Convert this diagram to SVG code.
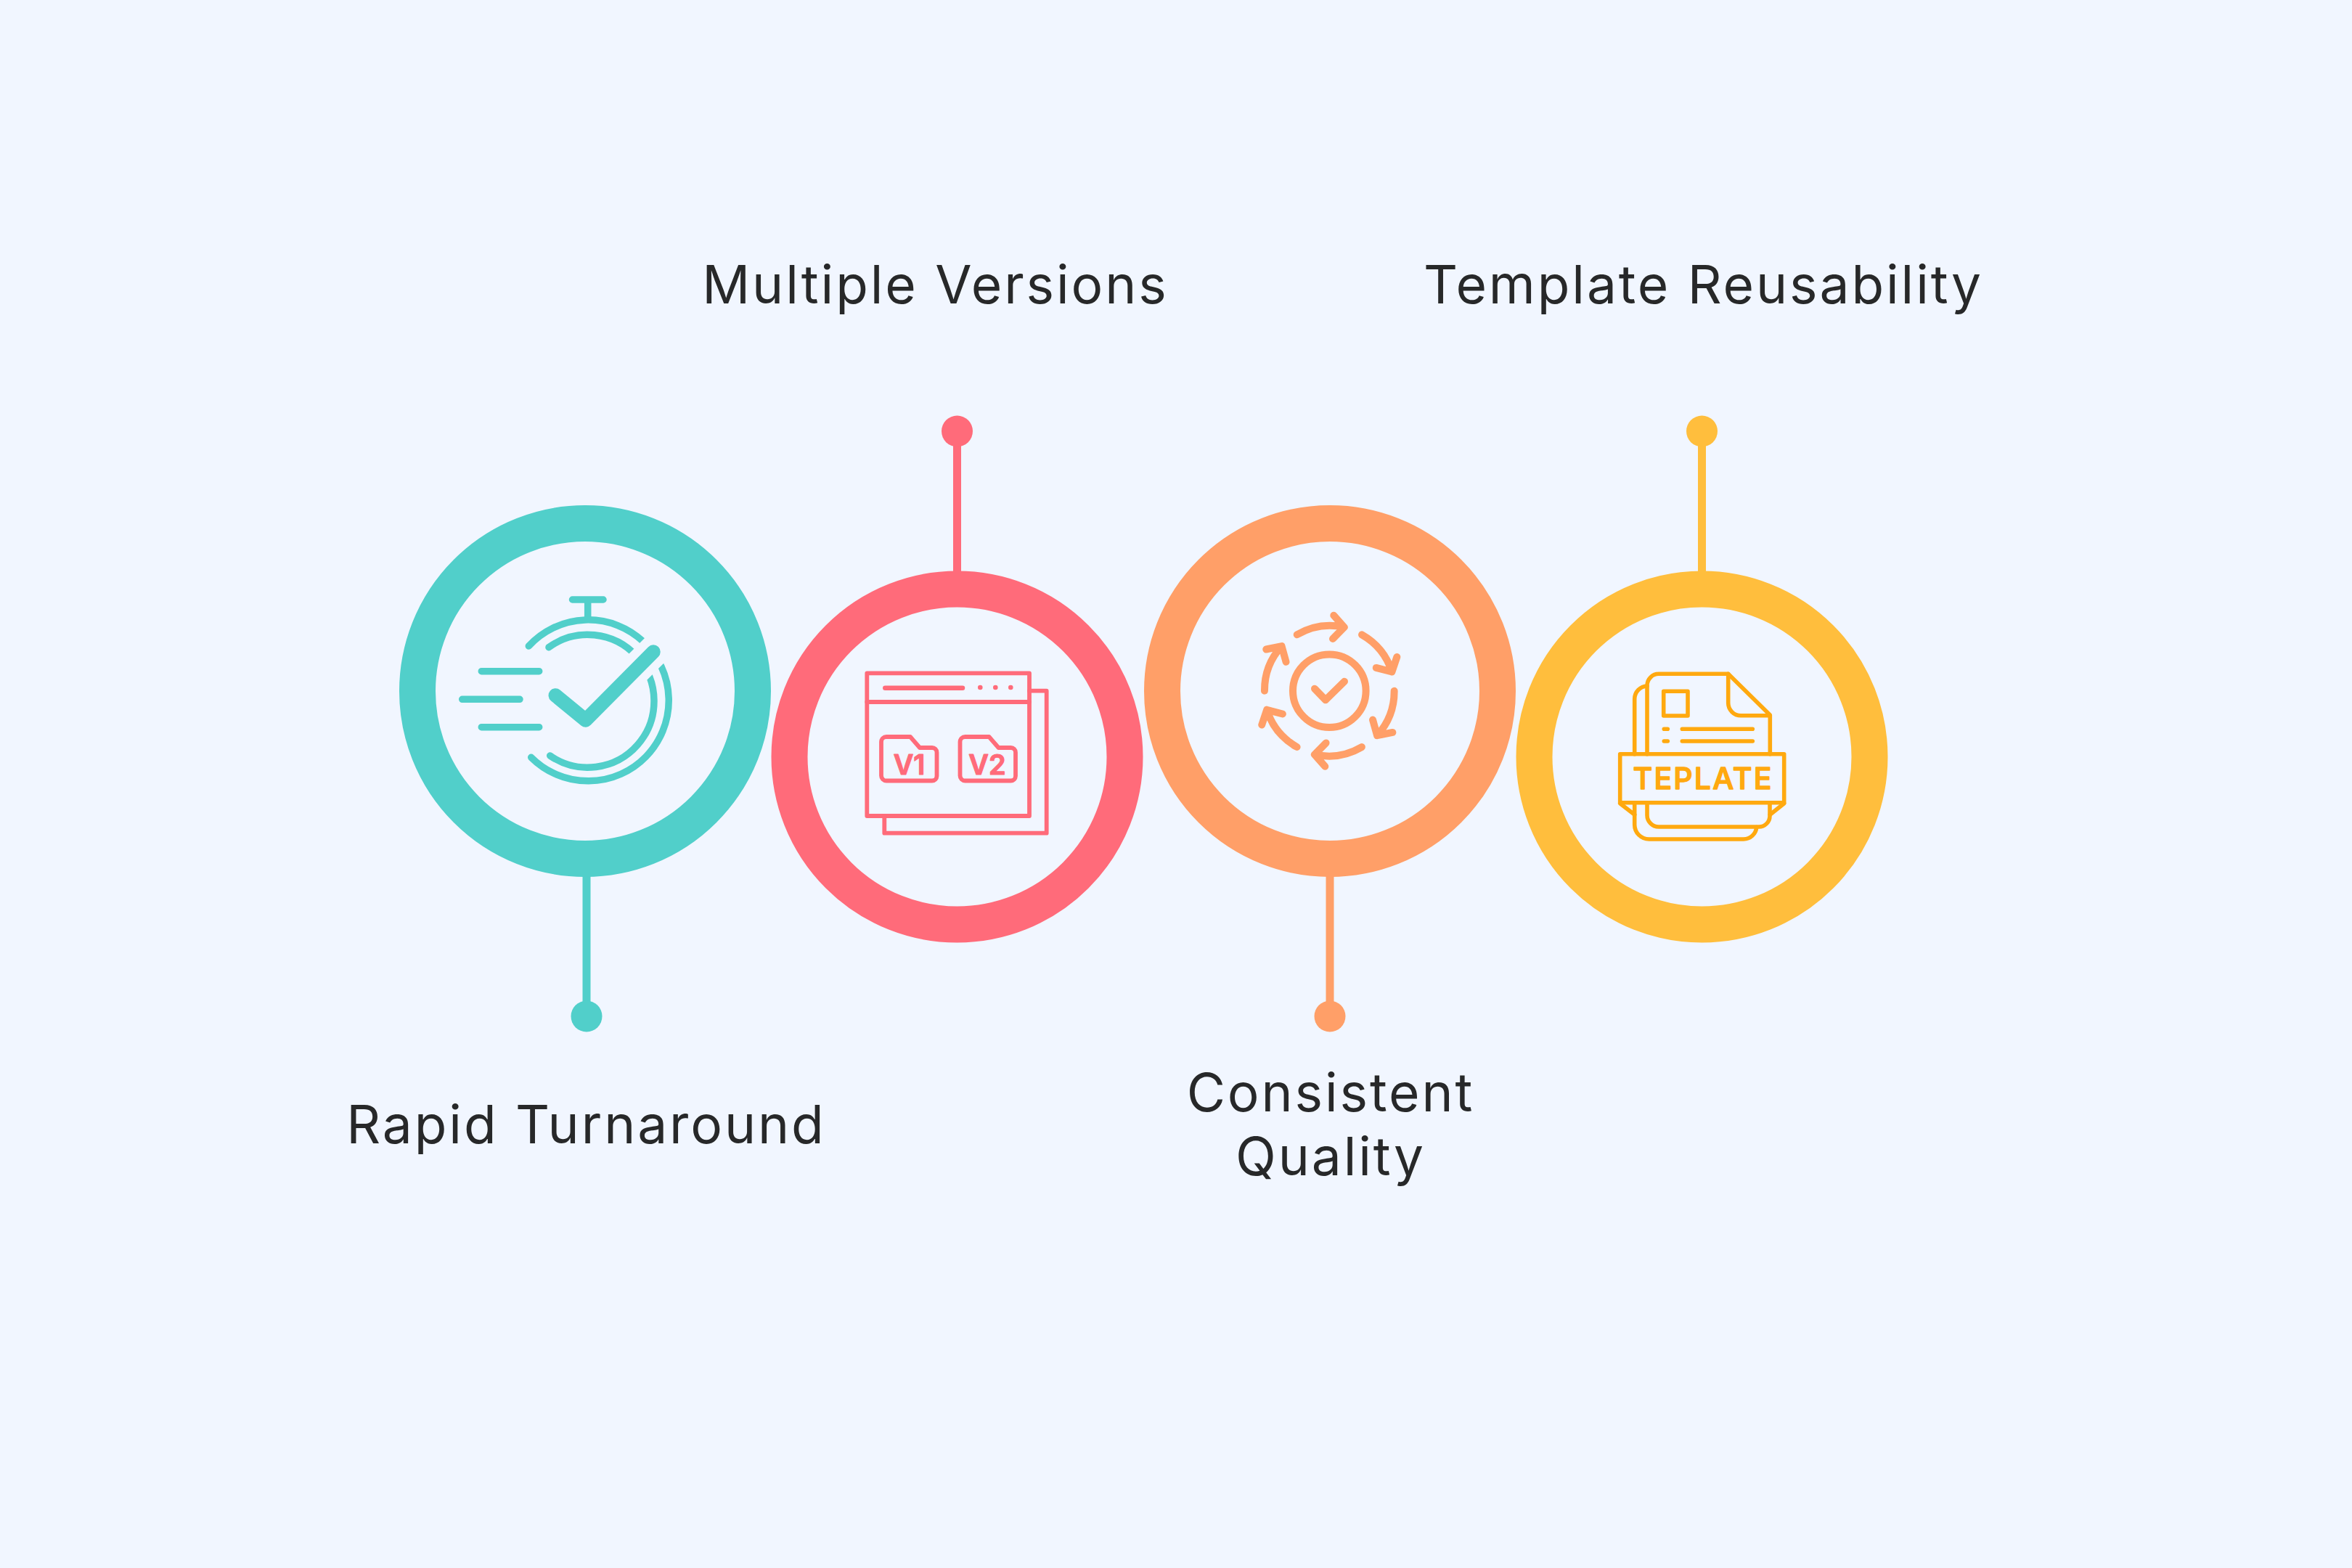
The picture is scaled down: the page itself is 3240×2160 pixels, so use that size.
<svg xmlns="http://www.w3.org/2000/svg" xmlns:xlink="http://www.w3.org/1999/xlink" width="3240" height="2160" viewBox="0 0 3240 2160">
<style>
.lbl{font-family:Inter,"Liberation Sans",sans-serif;font-size:73px;fill:#272829;text-anchor:middle;letter-spacing:2.9px}
.ring{fill:#f1f6ff;stroke-width:50}
.ln{fill:none;stroke-linecap:round;stroke-linejoin:round}
.teal{stroke:#51cfca}.pink{stroke:#ff6b7a}.orange{stroke:#ff9f68}.yellow{stroke:#ffbe3d}.gold{stroke:#ffa90f}
</style>
<rect width="3240" height="2160" fill="#f1f6ff"/>
<g id="connectors">
<path class="teal" stroke-width="11" d="M808 1180V1399"/><circle cx="808" cy="1400" r="21.500" fill="#51cfca"/>
<path class="pink" stroke-width="11" d="M1318.500 800V593"/><circle cx="1318.500" cy="594" r="21.500" fill="#ff6b7a"/>
<path class="orange" stroke-width="11" d="M1832 1180V1399"/><circle cx="1832" cy="1400" r="21.500" fill="#ff9f68"/>
<path class="yellow" stroke-width="11" d="M2344.500 800V593"/><circle cx="2344.500" cy="594" r="21.500" fill="#ffbe3d"/>
</g>
<g id="node-rapid">
<circle class="ring teal" cx="806" cy="952" r="231"/>
<g class="ln teal" stroke-width="9.500">
<path d="M788.500 826H831M809.700 826V852"/>
<path d="M728.300 890A111 111 0 1 1 731.700 1043.300"/>
<path d="M756 891.700A91.400 91.400 0 1 1 757.700 1041"/>
<path d="M663.300 924.700H742.700M636.700 963.300H716M663.300 1001.700H742.700"/>
</g>
<path d="M850 947.500L936 861.500" stroke="#f1f6ff" stroke-width="43" fill="none"/>
<path class="ln teal" stroke-width="19.500" d="M765.300 958L806.700 992L900 898"/>
<text class="lbl" x="807.500" y="1575">Rapid Turnaround</text>
</g>
<g id="node-versions">
<circle class="ring pink" cx="1318.500" cy="1042.500" r="231"/>
<g class="ln pink" stroke-width="5.800">
<rect x="1194.300" y="927.300" width="223.700" height="196.700"/>
<path d="M1194.300 967H1418M1418 951.700H1441.700V1147.700H1218.300V1124"/>
<path d="M1219.300 947.700H1326" stroke-width="6.500"/>
<path d="M1214 1022a7 7 0 0 1 7-7H1254l13 15H1284a6.500 6.500 0 0 1 6.500 6.500V1069a6.500 6.500 0 0 1-6.500 6.500H1221a7 7 0 0 1-7-7Z"/>
<path d="M1322.500 1022a7 7 0 0 1 7-7H1362.500l13 15H1392.500a6.500 6.500 0 0 1 6.500 6.500V1069a6.500 6.500 0 0 1-6.500 6.500H1329.500a7 7 0 0 1-7-7Z"/>
</g>
<g fill="#ff6b7a"><circle cx="1350.300" cy="947" r="3.300"/><circle cx="1371.300" cy="947" r="3.300"/><circle cx="1392.300" cy="947" r="3.300"/></g>
<g font-family="Inter,'Liberation Sans',sans-serif" font-size="38" font-weight="600" fill="#ff6b7a" stroke="#ff6b7a" stroke-width="1.200" stroke-linejoin="round" text-anchor="middle">
<text x="1252.500" y="1067">V1</text><text x="1360" y="1067">V2</text>
</g>
<text class="lbl" x="1288.500" y="418">Multiple Versions</text>
</g>
<g id="node-quality">
<circle class="ring orange" cx="1832" cy="952" r="231"/>
<g class="ln orange" stroke-width="10">
<circle cx="1831.300" cy="951.700" r="50.300"/>
<path d="M1811 948.700L1826 964.300L1852 938.700"/>
<g id="arrow"><path d="M1786.700 874.300A90 90 0 0 1 1851.700 864M1837.300 847.700L1851.700 864L1836 880"/></g>
<use xlink:href="#arrow" transform="rotate(60 1831.300 951.700)"/>
<use xlink:href="#arrow" transform="rotate(120 1831.300 951.700)"/>
<use xlink:href="#arrow" transform="rotate(180 1831.300 951.700)"/>
<use xlink:href="#arrow" transform="rotate(240 1831.300 951.700)"/>
<use xlink:href="#arrow" transform="rotate(300 1831.300 951.700)"/>
</g>
<text class="lbl" x="1833" y="1530.500">Consistent</text>
<text class="lbl" x="1833" y="1619">Quality</text>
</g>
<g id="node-template">
<circle class="ring yellow" cx="2344.500" cy="1042.500" r="231"/>
<g class="ln gold" stroke-width="5.600">
<rect x="2231.700" y="1038.700" width="226" height="67"/>
<path d="M2269 1038.700V944a16 16 0 0 1 16-15.700H2380.700L2438.300 985V1038.700"/>
<path d="M2380.700 928.300V968.300a17.500 17.500 0 0 0 17.500 17.500H2438"/>
<path d="M2269 1105.700V1123a16 16 0 0 0 16 16H2423a15 15 0 0 0 15-15V1105.700"/>
<path d="M2251.700 1038.700V963a18 18 0 0 1 17.300-18"/>
<path d="M2251.700 1105.700V1136a20 20 0 0 0 20 20H2401.700a18 18 0 0 0 18-16.500"/>
<path d="M2231.700 1106.700L2251.700 1122.300M2457.700 1106.700L2438.300 1122.300"/>
<rect x="2291.700" y="952.300" width="33.300" height="33.700"/>
<path d="M2292.300 1004.300H2297.300M2317.300 1004.300H2414.300M2292.300 1021H2297.300M2317.300 1021H2414.300"/>
</g>
<text x="2345" y="1086.500" font-family="Inter,'Liberation Sans',sans-serif" font-size="41" font-weight="500" fill="#ffa90f" stroke="#ffa90f" stroke-width="1.500" stroke-linejoin="round" text-anchor="middle" textLength="191" lengthAdjust="spacing">TEPLATE</text>
<text class="lbl" x="2346.500" y="418">Template Reusability</text>
</g>
</svg>
